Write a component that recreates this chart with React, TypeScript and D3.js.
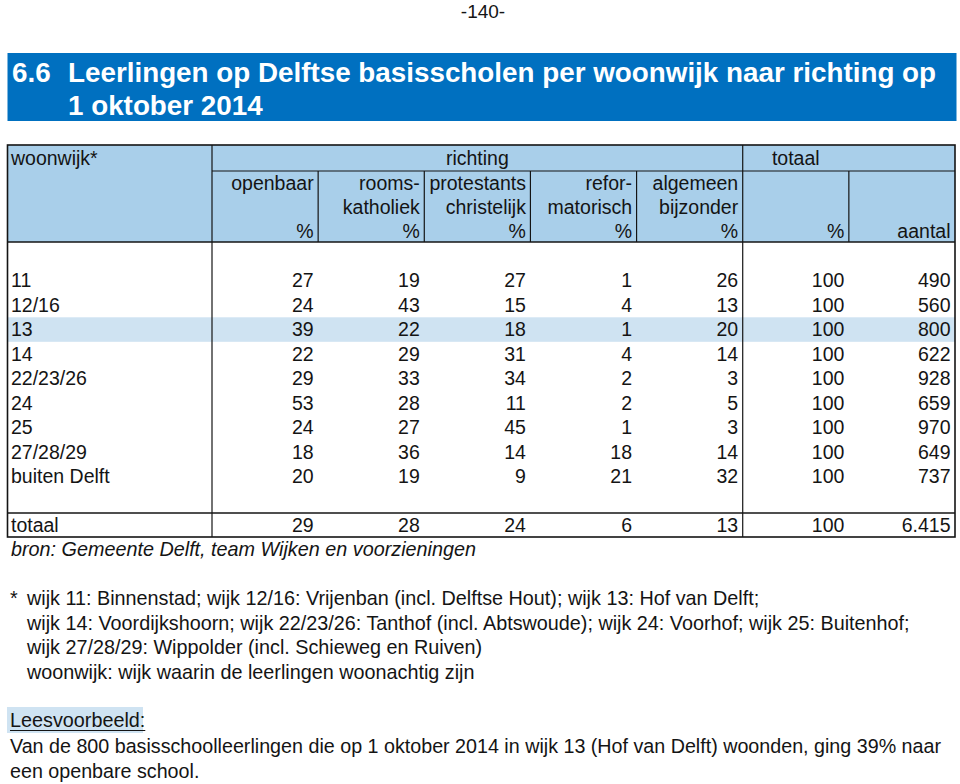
import React, {useEffect, useRef} from 'react';
import * as d3 from 'd3';

// rows: woonwijk
const wijken = ['11', '12/16', '13', '14', '22/23/26', '24', '25', '27/28/29', 'buiten Delft'];

// richting, percentages per woonwijk
const openbaar = [27, 24, 39, 22, 29, 53, 24, 18, 20];
const roomsKatholiek = [19, 43, 22, 29, 33, 28, 27, 36, 19];
const protestantsChristelijk = [27, 15, 18, 31, 34, 11, 45, 14, 9];
const reformatorisch = [1, 4, 1, 4, 2, 2, 1, 18, 21];
const algemeenBijzonder = [26, 13, 20, 14, 3, 5, 3, 14, 32];
const totaalPct = [100, 100, 100, 100, 100, 100, 100, 100, 100];
const aantal = [490, 560, 800, 622, 928, 659, 970, 649, 737];

const totaalRow = ['29', '28', '24', '6', '13', '100', '6.415'];

const colKeys = ['openbaar', 'rooms', 'prot', 'refor', 'alg', 'totPct', 'aantal'];
const colHeaders = [
  ['openbaar', '', '%'],
  ['rooms-', 'katholiek', '%'],
  ['protestants', 'christelijk', '%'],
  ['refor-', 'matorisch', '%'],
  ['algemeen', 'bijzonder', '%'],
  ['', '', '%'],
  ['', '', 'aantal'],
];

const highlightWijk = '13';

const titleLines = ['Leerlingen op Delftse basisscholen per woonwijk naar richting op', '1 oktober 2014'];
const footnotes = [
  'wijk 11: Binnenstad; wijk 12/16: Vrijenban (incl. Delftse Hout); wijk 13: Hof van Delft;',
  'wijk 14: Voordijkshoorn; wijk 22/23/26: Tanthof (incl. Abtswoude); wijk 24: Voorhof; wijk 25: Buitenhof;',
  'wijk 27/28/29: Wippolder (incl. Schieweg en Ruiven)',
  'woonwijk: wijk waarin de leerlingen woonachtig zijn',
];
const exampleLines = [
  'Van de 800 basisschoolleerlingen die op 1 oktober 2014 in wijk 13 (Hof van Delft) woonden, ging 39% naar',
  'een openbare school.',
];

const FONT = '"Liberation Sans", Arial, Helvetica, sans-serif';
const INK = '#141414';

const App = () => {
  const svgRef = useRef(null);

  useEffect(() => {
    const width = 960;
    const height = 784;
    const svg = d3.select(svgRef.current);
    svg.selectAll('*').remove();
    svg.attr('width', width).attr('height', height).attr('font-family', FONT);

    const left = 7.5;
    const right = 955;
    const top = 145;
    const headBottom = 242;
    const subTop = 171;
    const totTop = 513;
    const bottom = 537;

    const x = d3.scaleBand().domain(colKeys).range([212, right]);
    const y = d3.scaleBand().domain(wijken).range([268.3, 268.3 + 24.5 * wijken.length]);
    const bw = x.bandwidth();

    const columns = [openbaar, roomsKatholiek, protestantsChristelijk, reformatorisch, algemeenBijzonder, totaalPct, aantal];

    // page number
    svg.append('text').attr('x', 483).attr('y', 18).attr('text-anchor', 'middle')
      .attr('font-size', 19).attr('fill', INK).text('-140-');

    // title band
    svg.append('rect').attr('x', 7.5).attr('y', 53).attr('width', 949).attr('height', 68).attr('fill', '#0070c0');
    svg.append('text').attr('x', 12).attr('y', 81.5).attr('font-size', 27.8).attr('font-weight', 'bold')
      .attr('fill', '#fff').text('6.6');
    titleLines.forEach((t, i) => {
      svg.append('text').attr('x', 68).attr('y', 81.5 + i * 33.5).attr('font-size', 27.8)
        .attr('font-weight', 'bold').attr('fill', '#fff').text(t);
    });

    // fills
    svg.append('rect').attr('x', left).attr('y', top).attr('width', right - left).attr('height', headBottom - top)
      .attr('fill', '#a9cfea');
    svg.append('rect').attr('x', left).attr('y', y(highlightWijk)).attr('width', right - left)
      .attr('height', y.bandwidth()).attr('fill', '#cfe3f2');

    // grid lines
    const line = (x1, y1, x2, y2, w = 1.2) =>
      svg.append('line').attr('x1', x1).attr('y1', y1).attr('x2', x2).attr('y2', y2)
        .attr('stroke', INK).attr('stroke-width', w);

    line(212, top, 212, bottom);
    line(x('totPct'), top, x('totPct'), bottom);
    line(212, subTop, right, subTop);
    ['rooms', 'prot', 'refor', 'alg', 'aantal'].forEach(k => line(x(k), subTop, x(k), headBottom));
    line(left, headBottom, right, headBottom, 1.3);
    line(left, totTop, right, totTop, 1.6);
    svg.append('rect').attr('x', left).attr('y', top).attr('width', right - left).attr('height', bottom - top)
      .attr('fill', 'none').attr('stroke', INK).attr('stroke-width', 1.6);

    const txt = (s, tx, ty, anchor = 'start', size = 19.5) =>
      svg.append('text').attr('x', tx).attr('y', ty).attr('text-anchor', anchor)
        .attr('font-size', size).attr('fill', INK).text(s);

    // header
    txt('woonwijk*', 11, 165);
    txt('richting', (212 + x('totPct')) / 2, 165, 'middle');
    txt('totaal', x('totPct') + bw / 2, 165, 'middle');
    colHeaders.forEach((lines, i) => {
      lines.forEach((s, j) => {
        if (s) txt(s, x(colKeys[i]) + bw - 4.5, 190 + j * 24, 'end');
      });
    });

    // body
    wijken.forEach((w, r) => {
      const by = y(w) + 18.7;
      txt(w, 11, by);
      columns.forEach((col, c) => txt(String(col[r]), x(colKeys[c]) + bw - 4.5, by, 'end'));
    });

    // totaal row
    txt('totaal', 11, 531.5);
    totaalRow.forEach((s, c) => txt(s, x(colKeys[c]) + bw - 4.5, 531.5, 'end'));

    txt('bron: Gemeente Delft, team Wijken en voorzieningen', 11, 556, 'start', 19.8).attr('font-style', 'italic');

    // footnotes
    txt('*', 10, 605, 'start', 19.8);
    footnotes.forEach((s, i) => txt(s, 27, 605 + i * 24.5, 'start', 19.8));

    // leesvoorbeeld
    svg.append('rect').attr('x', 7).attr('y', 707).attr('width', 136).attr('height', 26).attr('fill', '#cfe3f2');
    const lv = txt('Leesvoorbeeld:', 10, 727, 'start', 19.8);
    const lvw = lv.node().getComputedTextLength();
    line(10, 730.5, 10 + lvw, 730.5, 1.2);
    exampleLines.forEach((s, i) => txt(s, 10, 753 + i * 24.5, 'start', 19.7));
  }, []);

  return (
    <div style={{position: 'absolute', left: 0, top: 0, background: '#fff'}}>
      <svg ref={svgRef} style={{display: 'block'}}></svg>
    </div>
  );
};

export default App;
